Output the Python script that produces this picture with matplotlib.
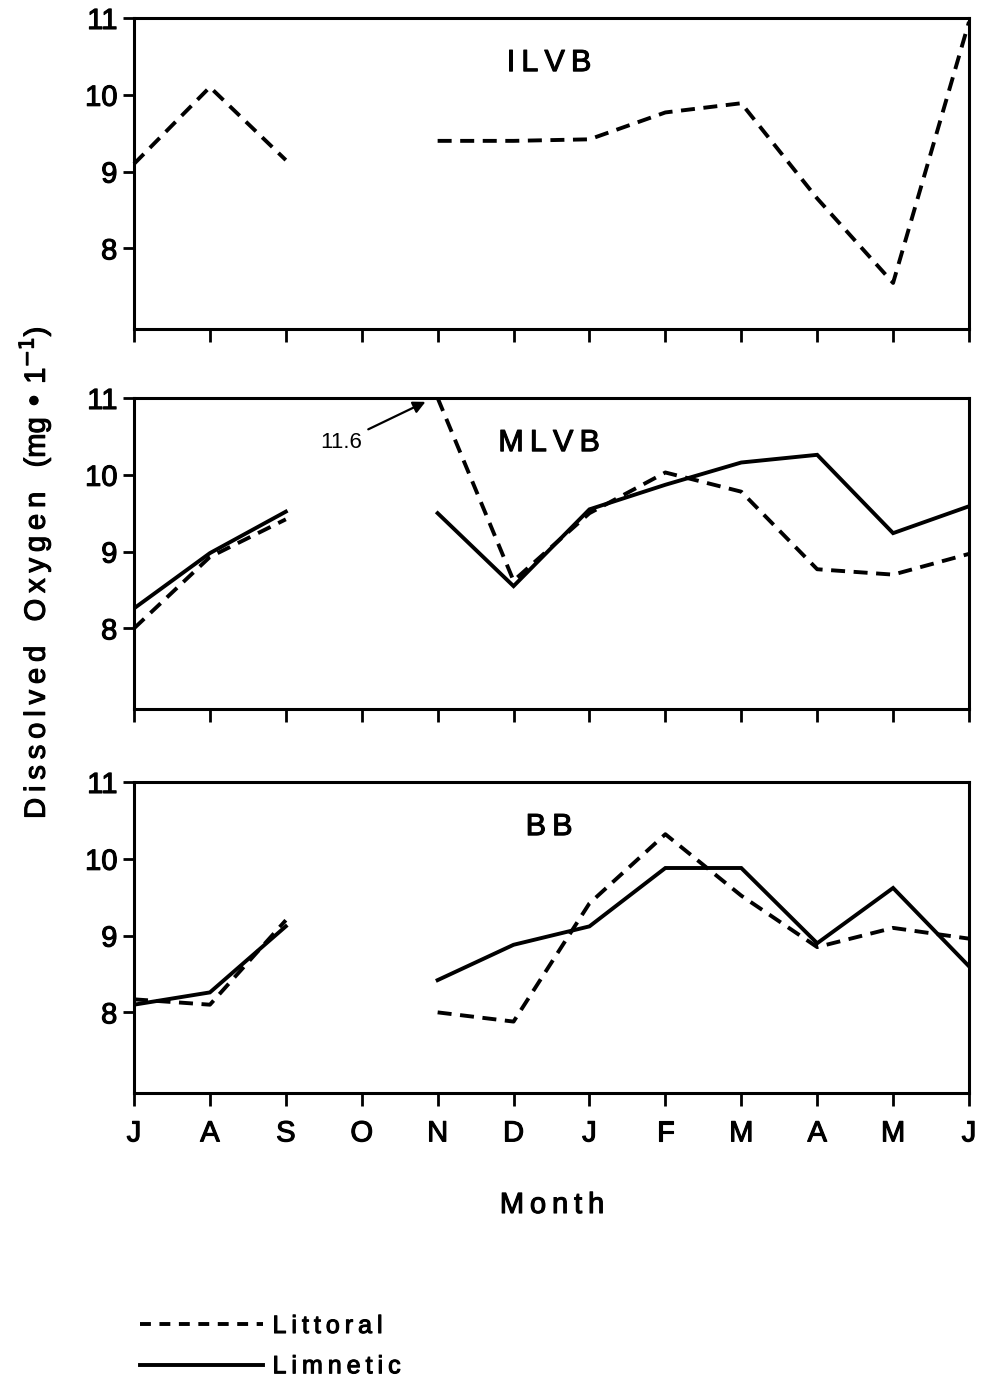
import matplotlib.pyplot as plt
import matplotlib.patheffects as pe
import numpy as np
from matplotlib.lines import Line2D


MONTHS = ["J", "A", "S", "O", "N", "D", "J", "F", "M", "A", "M", "J"]
NAN = np.nan

# dissolved oxygen (mg/l), July through June; October not sampled
ILVB_LITTORAL = [9.1, 10.1, 9.15, NAN, 9.4, 9.4, 9.42, 9.77, 9.89, 8.65, 7.55, 10.95]

MLVB_LITTORAL = [8.0, 8.93, 9.42, NAN, 11.6, 8.62, 9.5, 10.03, 9.78, 8.77, 8.7, 8.97]
MLVB_LIMNETIC = [8.26, 8.98, 9.52, NAN, 9.5, 8.55, 9.55, 9.87, 10.16, 10.26, 9.24, 9.59]

BB_LITTORAL = [8.17, 8.1, 9.2, NAN, 8.0, 7.88, 9.42, 10.32, 9.52, 8.85, 9.1, 8.96]
BB_LIMNETIC = [8.1, 8.26, 9.12, NAN, 8.42, 8.88, 9.12, 9.88, 9.88, 8.9, 9.62, 8.6]

Y_TICKS = [8, 9, 10, 11]
Y_MIN, Y_MAX = 6.95, 11.0

PANELS = [
    ("ILVB", ILVB_LITTORAL, None),
    ("MLVB", MLVB_LITTORAL, MLVB_LIMNETIC),
    ("BB", BB_LITTORAL, BB_LIMNETIC),
]

DASH = (0, (3.6, 2.2))
LW = 2.8
SP = "\u2009"
HEAVY = [pe.withStroke(linewidth=0.8, foreground="black")]


def spaced(text):
    return SP.join(text)


plt.rcParams["font.family"] = ["Liberation Sans", "DejaVu Sans"]

fig = plt.figure(figsize=(9.85, 13.93), dpi=100)

left, width = 134 / 985, (969 - 134) / 985
tops = [18, 398, 782]
height_px = 311

x = np.arange(len(MONTHS))
axes = []
for (name, littoral, limnetic), top in zip(PANELS, tops):
    ax = fig.add_axes([left, 1 - (top + height_px) / 1393, width, height_px / 1393])
    axes.append(ax)
    # off-scale values are pinned to the top of the frame
    lit = np.minimum(np.array(littoral, dtype=float), Y_MAX)
    ax.plot(x, lit, color="black", lw=LW, linestyle=DASH,
            dash_capstyle="butt", clip_on=False)
    if limnetic is not None:
        ax.plot(x, limnetic, color="black", lw=LW, solid_joinstyle="miter")
    ax.set_xlim(0, len(MONTHS) - 1)
    ax.set_ylim(Y_MIN, Y_MAX)
    ax.set_yticks(Y_TICKS)
    ax.set_xticks(x)
    ax.tick_params(axis="both", direction="out", width=2, labelsize=21)
    ax.tick_params(axis="x", length=9, pad=10)
    ax.tick_params(axis="y", length=8, pad=4)
    for side in ax.spines.values():
        side.set_linewidth(2.2)
    ax.text(0.497, 0.855, spaced(name), transform=ax.transAxes, ha="center",
            va="center", fontsize=22, path_effects=HEAVY)
    if top != tops[-1]:
        ax.set_xticklabels([])
    else:
        ax.set_xticklabels(MONTHS, fontsize=21)
    for lbl in ax.get_xticklabels() + ax.get_yticklabels():
        lbl.set_path_effects(HEAVY)

# off-scale November littoral reading in MLVB
axes[1].annotate(f"{MLVB_LITTORAL[4]:.1f}", xy=(3.84, 10.95), xytext=(3.0, 10.42),
                 fontsize=16, ha="right", va="center",
                 arrowprops=dict(arrowstyle="-|>", color="black", lw=1.6,
                                 mutation_scale=18, shrinkA=3, shrinkB=0))

fig.text(35 / 985, 1 - 573 / 1393, spaced("Dissolved") + "   " + spaced("Oxygen")
         + "   (mg • 1$^{-1}$)", rotation=90, ha="center", va="center", fontsize=21,
         path_effects=HEAVY)
fig.text(552 / 985, 1 - 1205 / 1393, spaced("Month"), ha="center", va="center",
         fontsize=21, path_effects=HEAVY)

handles = [
    Line2D([], [], color="black", lw=LW, linestyle=(0, (2.8, 2.2))),
    Line2D([], [], color="black", lw=LW),
]
leg = fig.legend(handles, [spaced("Littoral"), spaced("Limnetic")], loc="upper left",
                 bbox_to_anchor=(140 / 985, 1 - 1314 / 1393), frameon=False,
                 borderpad=0, borderaxespad=0, handlelength=4.9, handletextpad=0.4,
                 labelspacing=0.65, fontsize=18)
for txt in leg.get_texts():
    txt.set_path_effects(HEAVY)

fig.savefig("out.png", dpi=100, facecolor="white")
